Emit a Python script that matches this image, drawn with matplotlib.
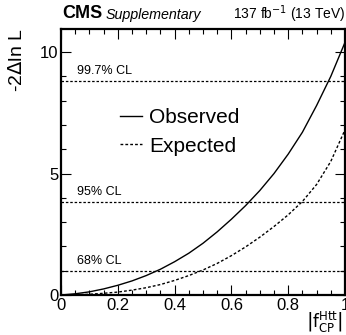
import matplotlib
matplotlib.use("Agg")
import matplotlib.pyplot as plt
from matplotlib.ticker import MultipleLocator
import numpy as np

plt.rcParams['font.family'] = ['Liberation Sans', 'DejaVu Sans']

x_vals = [0.0, 0.05, 0.1, 0.15, 0.2, 0.25, 0.3, 0.35, 0.4, 0.45, 0.5,
          0.55, 0.6, 0.65, 0.7, 0.75, 0.8, 0.85, 0.9, 0.95, 1.0]
observed = [0.0, 0.05, 0.13, 0.25, 0.4, 0.58, 0.8, 1.06, 1.37, 1.72, 2.13,
            2.6, 3.12, 3.68, 4.3, 5.0, 5.8, 6.7, 7.8, 9.0, 10.4]
expected = [0.0, 0.01, 0.03, 0.07, 0.12, 0.2, 0.3, 0.43, 0.6, 0.8, 1.03,
            1.3, 1.62, 1.98, 2.38, 2.82, 3.3, 3.85, 4.55, 5.5, 6.8]
cl_levels = [1.0, 3.84, 8.81]
cl_labels = ["68% CL", "95% CL", "99.7% CL"]

fig = plt.figure(figsize=(3.46, 3.35), dpi=100)
ax = fig.add_axes([61/346, 1 - 295/335, 284/346, 266/335])

for lvl, lab in zip(cl_levels, cl_labels):
    ax.axhline(lvl, color='black', lw=0.9, ls=(0, (2, 1.5)))
    ax.text(0.056, lvl + 0.17, lab, fontsize=9, va='bottom', ha='left')

ax.plot(x_vals, observed, color='black', lw=1.0, label='Observed')
ax.plot(x_vals, expected, color='black', lw=1.0, ls=(0, (2, 1.5)), label='Expected')

ax.set_xlim(0, 1)
ax.set_ylim(0, 10.95)
ax.xaxis.set_major_locator(MultipleLocator(0.2))
ax.xaxis.set_minor_locator(MultipleLocator(0.05))
ax.yaxis.set_major_locator(MultipleLocator(5))
ax.yaxis.set_minor_locator(MultipleLocator(1))
ax.tick_params(which='both', direction='in', top=True, right=True, labelsize=12, width=0.8)
ax.tick_params(which='major', length=7, pad=2)
ax.tick_params(which='minor', length=3.5)
ax.set_xticks([0, 0.2, 0.4, 0.6, 0.8, 1.0])
ax.set_xticklabels(["0", "0.2", "0.4", "0.6", "0.8", "1"])
ax.set_yticks([0, 5, 10])
ax.set_yticklabels(["0", "5", "10"])
for s in ax.spines.values():
    s.set_linewidth(1.6)

leg = ax.legend(loc='center left', bbox_to_anchor=(0.208, (295 - 132) / 266), frameon=False,
                fontsize=15, handlelength=1.05, handletextpad=0.35, labelspacing=0.45,
                borderaxespad=0, borderpad=0)

fig.text(17/346, 1 - 60/335, r"-2$\Delta$ln L", rotation=90, fontsize=14, ha='center', va='center')
fig.text(343/346, 1 - 322/335, r"$\left|\mathrm{f}_{\mathrm{CP}}^{\mathrm{Htt}}\right|$",
         fontsize=12, ha='right', va='center')

fig.text(62/346, 1 - 14/335, "CMS", fontsize=13, fontweight='bold', ha='left', va='center')
fig.text(106/346, 1 - 15/335, "Supplementary", fontsize=10.3, style='italic', ha='left', va='center')
fig.text(345/346, 1 - 14/335, r"137 fb$^{-1}$ (13 TeV)", fontsize=10, ha='right', va='center')

fig.savefig("out.png", dpi=100)
